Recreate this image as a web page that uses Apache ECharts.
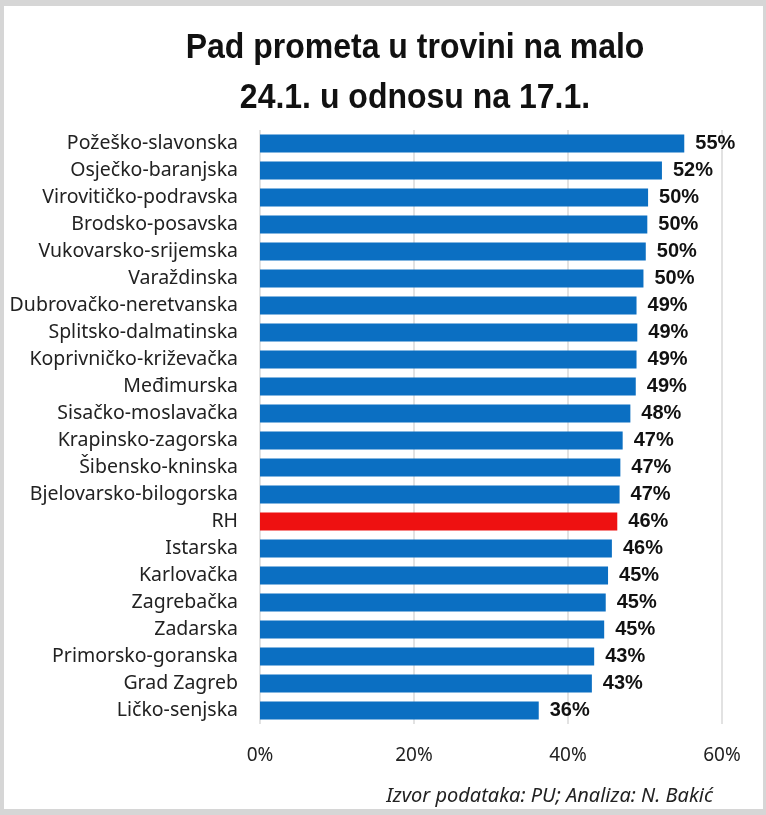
<!DOCTYPE html>
<html>
<head>
<meta charset="utf-8">
<script src="https://cdn.jsdelivr.net/npm/echarts@6/dist/echarts.min.js"></script>
<style>
    html, body { margin: 0; padding: 0; background: #d6d6d6; }
    #chart { position: absolute; left: 4px; top: 6px; width: 759px; height: 803px; background: #fff; }
</style>
</head>
<body>
<div id="chart"></div>
<script>
// podaci, odozgo prema dolje
var regije = ['Požeško-slavonska', 'Osječko-baranjska', 'Virovitičko-podravska', 'Brodsko-posavska',
    'Vukovarsko-srijemska', 'Varaždinska', 'Dubrovačko-neretvanska', 'Splitsko-dalmatinska',
    'Koprivničko-križevačka', 'Međimurska', 'Sisačko-moslavačka', 'Krapinsko-zagorska',
    'Šibensko-kninska', 'Bjelovarsko-bilogorska', 'RH', 'Istarska', 'Karlovačka', 'Zagrebačka',
    'Zadarska', 'Primorsko-goranska', 'Grad Zagreb', 'Ličko-senjska'];
var pad = [55.1, 52.2, 50.4, 50.3, 50.1, 49.8, 48.9, 49.0, 48.9, 48.8, 48.1, 47.1,
    46.8, 46.7, 46.4, 45.7, 45.2, 44.9, 44.7, 43.4, 43.1, 36.2];
var xTicks = [0, 20, 40, 60];
var naslov = ['Pad prometa u trovini na malo', '24.1. u odnosu na 17.1.'];
var izvor = 'Izvor podataka: PU; Analiza: N. Bakić';

(function () {
    var myChart = echarts.init(document.getElementById('chart'));
    var option = {
        backgroundColor: '#fff',
        animation: false,
        graphic: [{
            type: 'text',
            x: 411,
            y: 42,
            scaleY: 1.1,
            style: {
                text: naslov[0],
                font: 'bold 32px "Liberation Sans"',
                fill: '#111',
                align: 'center',
                verticalAlign: 'middle'
            }
        }, {
            type: 'text',
            x: 411,
            y: 92,
            scaleY: 1.1,
            style: {
                text: naslov[1],
                font: 'bold 32px "Liberation Sans"',
                fill: '#111',
                align: 'center',
                verticalAlign: 'middle'
            }
        }, {
            type: 'text',
            right: 50,
            top: 780,
            style: {
                text: izvor,
                font: 'italic 20px "Noto Sans"',
                fill: '#222'
            }
        }],
        grid: {
            left: 256,
            right: 41,
            top: 124,
            bottom: 85
        },
        xAxis: {
            type: 'value',
            min: xTicks[0],
            max: xTicks[xTicks.length - 1],
            interval: 20,
            axisLabel: {
                formatter: '{value}%',
                color: '#222',
                fontSize: 19,
                fontFamily: 'Noto Sans',
                margin: 22
            },
            axisLine: { show: false },
            axisTick: { show: false },
            splitLine: { lineStyle: { color: '#d9d9d9', width: 1.5 } }
        },
        yAxis: {
            type: 'category',
            inverse: true,
            data: regije,
            axisLabel: {
                color: '#222',
                fontSize: 19.5,
                fontFamily: 'Noto Sans',
                margin: 22
            },
            axisLine: { show: false },
            axisTick: { show: false }
        },
        series: [{
            type: 'bar',
            data: pad.map(function (v, i) {
                return {
                    value: v,
                    itemStyle: { color: regije[i] === 'RH' ? '#ee1111' : '#0b6fc2' }
                };
            }),
            barWidth: 18,
            label: {
                show: true,
                position: 'right',
                distance: 11,
                formatter: function (p) { return Math.round(p.value) + '%'; },
                color: '#111',
                fontWeight: 'bold',
                fontSize: 20,
                fontFamily: 'Liberation Sans'
            }
        }]
    };
    myChart.setOption(option);
    window.addEventListener('resize', function () {
        myChart.resize();
    });
})();
</script>
</body>
</html>
